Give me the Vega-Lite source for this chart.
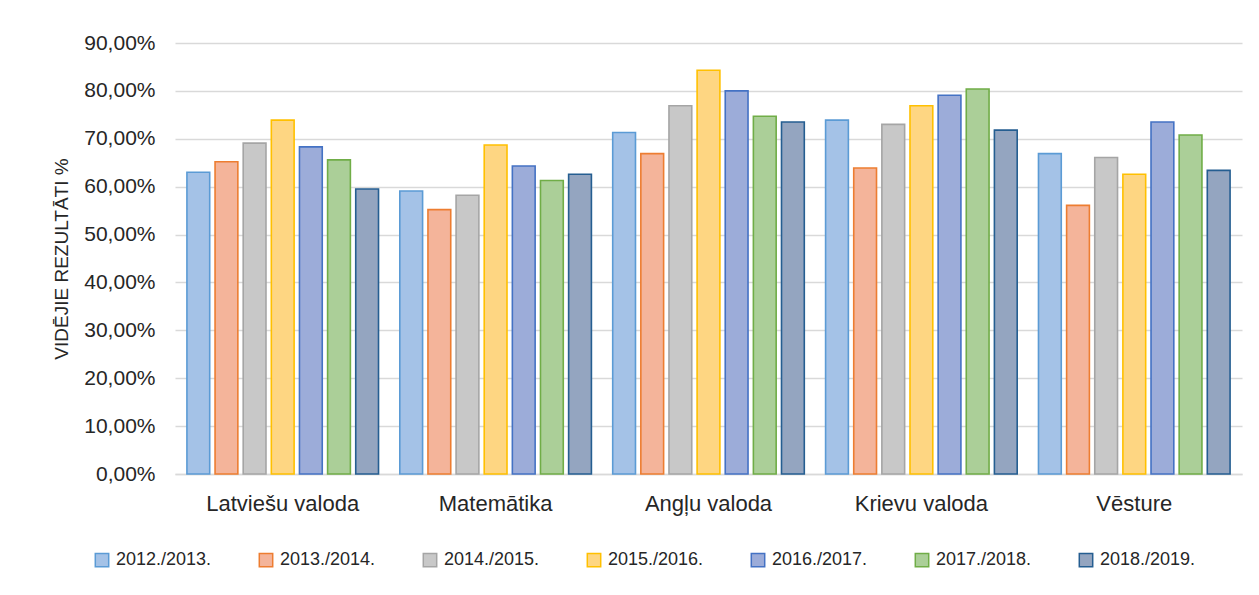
{
  "$schema": "https://vega.github.io/schema/vega-lite/v6.json",
  "width": 1067,
  "height": 431,
  "autosize": "none",
  "padding": {"left": 175, "top": 43, "right": 17, "bottom": 121},
  "background": "white",
  "config": {
    "font": "Liberation Sans",
    "view": {"stroke": null},
    "axis": {"labelColor": "#262626", "titleColor": "#262626", "labelFont": "Liberation Sans", "titleFont": "Liberation Sans"}
  },
  "data": {
    "values": [
      {"subject": "Latviešu valoda", "year": "2012./2013.", "value": 0.630},
      {"subject": "Latviešu valoda", "year": "2013./2014.", "value": 0.652},
      {"subject": "Latviešu valoda", "year": "2014./2015.", "value": 0.691},
      {"subject": "Latviešu valoda", "year": "2015./2016.", "value": 0.739},
      {"subject": "Latviešu valoda", "year": "2016./2017.", "value": 0.683},
      {"subject": "Latviešu valoda", "year": "2017./2018.", "value": 0.656},
      {"subject": "Latviešu valoda", "year": "2018./2019.", "value": 0.595},
      {"subject": "Matemātika", "year": "2012./2013.", "value": 0.591},
      {"subject": "Matemātika", "year": "2013./2014.", "value": 0.552},
      {"subject": "Matemātika", "year": "2014./2015.", "value": 0.582},
      {"subject": "Matemātika", "year": "2015./2016.", "value": 0.687},
      {"subject": "Matemātika", "year": "2016./2017.", "value": 0.643},
      {"subject": "Matemātika", "year": "2017./2018.", "value": 0.613},
      {"subject": "Matemātika", "year": "2018./2019.", "value": 0.626},
      {"subject": "Angļu valoda", "year": "2012./2013.", "value": 0.713},
      {"subject": "Angļu valoda", "year": "2013./2014.", "value": 0.669},
      {"subject": "Angļu valoda", "year": "2014./2015.", "value": 0.769},
      {"subject": "Angļu valoda", "year": "2015./2016.", "value": 0.843},
      {"subject": "Angļu valoda", "year": "2016./2017.", "value": 0.800},
      {"subject": "Angļu valoda", "year": "2017./2018.", "value": 0.747},
      {"subject": "Angļu valoda", "year": "2018./2019.", "value": 0.735},
      {"subject": "Krievu valoda", "year": "2012./2013.", "value": 0.739},
      {"subject": "Krievu valoda", "year": "2013./2014.", "value": 0.639},
      {"subject": "Krievu valoda", "year": "2014./2015.", "value": 0.730},
      {"subject": "Krievu valoda", "year": "2015./2016.", "value": 0.769},
      {"subject": "Krievu valoda", "year": "2016./2017.", "value": 0.791},
      {"subject": "Krievu valoda", "year": "2017./2018.", "value": 0.804},
      {"subject": "Krievu valoda", "year": "2018./2019.", "value": 0.718},
      {"subject": "Vēsture", "year": "2012./2013.", "value": 0.669},
      {"subject": "Vēsture", "year": "2013./2014.", "value": 0.561},
      {"subject": "Vēsture", "year": "2014./2015.", "value": 0.661},
      {"subject": "Vēsture", "year": "2015./2016.", "value": 0.626},
      {"subject": "Vēsture", "year": "2016./2017.", "value": 0.735},
      {"subject": "Vēsture", "year": "2017./2018.", "value": 0.708},
      {"subject": "Vēsture", "year": "2018./2019.", "value": 0.634}
    ]
  },
  "mark": {"type": "bar", "strokeWidth": 1.6},
  "encoding": {
    "x": {
      "field": "subject",
      "type": "nominal",
      "sort": null,
      "scale": {"paddingInner": 0.1, "paddingOuter": 0.056},
      "axis": {
        "title": null,
        "labelAngle": 0,
        "labelFontSize": 22,
        "labelPadding": 19,
        "ticks": false,
        "domainColor": "#d9d9d9",
        "domainWidth": 1.5,
        "grid": false
      }
    },
    "xOffset": {
      "field": "year",
      "type": "nominal",
      "sort": null,
      "scale": {"paddingInner": 0.19, "paddingOuter": 0}
    },
    "y": {
      "field": "value",
      "type": "quantitative",
      "scale": {"domain": [0, 0.9]},
      "axis": {
        "title": "VIDĒJIE REZULTĀTI %",
        "titleFontSize": 19,
        "titleFontWeight": "normal",
        "titlePadding": 12,
        "labelExpr": "replace(format(datum.value * 100, '.2f'), '.', ',') + '%'",
        "values": [0, 0.1, 0.2, 0.3, 0.4, 0.5, 0.6, 0.7, 0.8, 0.9],
        "labelFontSize": 21,
        "labelPadding": 20,
        "ticks": false,
        "domain": false,
        "gridColor": "#d9d9d9",
        "gridWidth": 1.5
      }
    },
    "fill": {
      "field": "year",
      "type": "nominal",
      "sort": null,
      "scale": {
        "domain": ["2012./2013.", "2013./2014.", "2014./2015.", "2015./2016.", "2016./2017.", "2017./2018.", "2018./2019."],
        "range": ["#a4c2e7", "#f4b49a", "#c8c8c8", "#fed682", "#9cacd9", "#abcf98", "#94a5c0"]
      },
      "legend": {
        "title": null,
        "orient": "none",
        "legendX": -82,
        "legendY": 508,
        "direction": "horizontal",
        "columns": 7,
        "columnPadding": 44,
        "symbolType": "square",
        "symbolSize": 180,
        "symbolStrokeWidth": 1.5,
        "labelFontSize": 18,
        "labelColor": "#262626",
        "labelOffset": 5
      }
    },
    "stroke": {
      "field": "year",
      "type": "nominal",
      "sort": null,
      "scale": {
        "domain": ["2012./2013.", "2013./2014.", "2014./2015.", "2015./2016.", "2016./2017.", "2017./2018.", "2018./2019."],
        "range": ["#5b9bd5", "#ed7d31", "#a5a5a5", "#ffc000", "#4472c4", "#70ad47", "#255e91"]
      },
      "legend": {
        "title": null,
        "orient": "none",
        "legendX": -82,
        "legendY": 508,
        "direction": "horizontal",
        "columns": 7,
        "columnPadding": 44,
        "symbolType": "square",
        "symbolSize": 180,
        "symbolStrokeWidth": 1.5,
        "labelFontSize": 18,
        "labelColor": "#262626",
        "labelOffset": 5
      }
    }
  }
}
